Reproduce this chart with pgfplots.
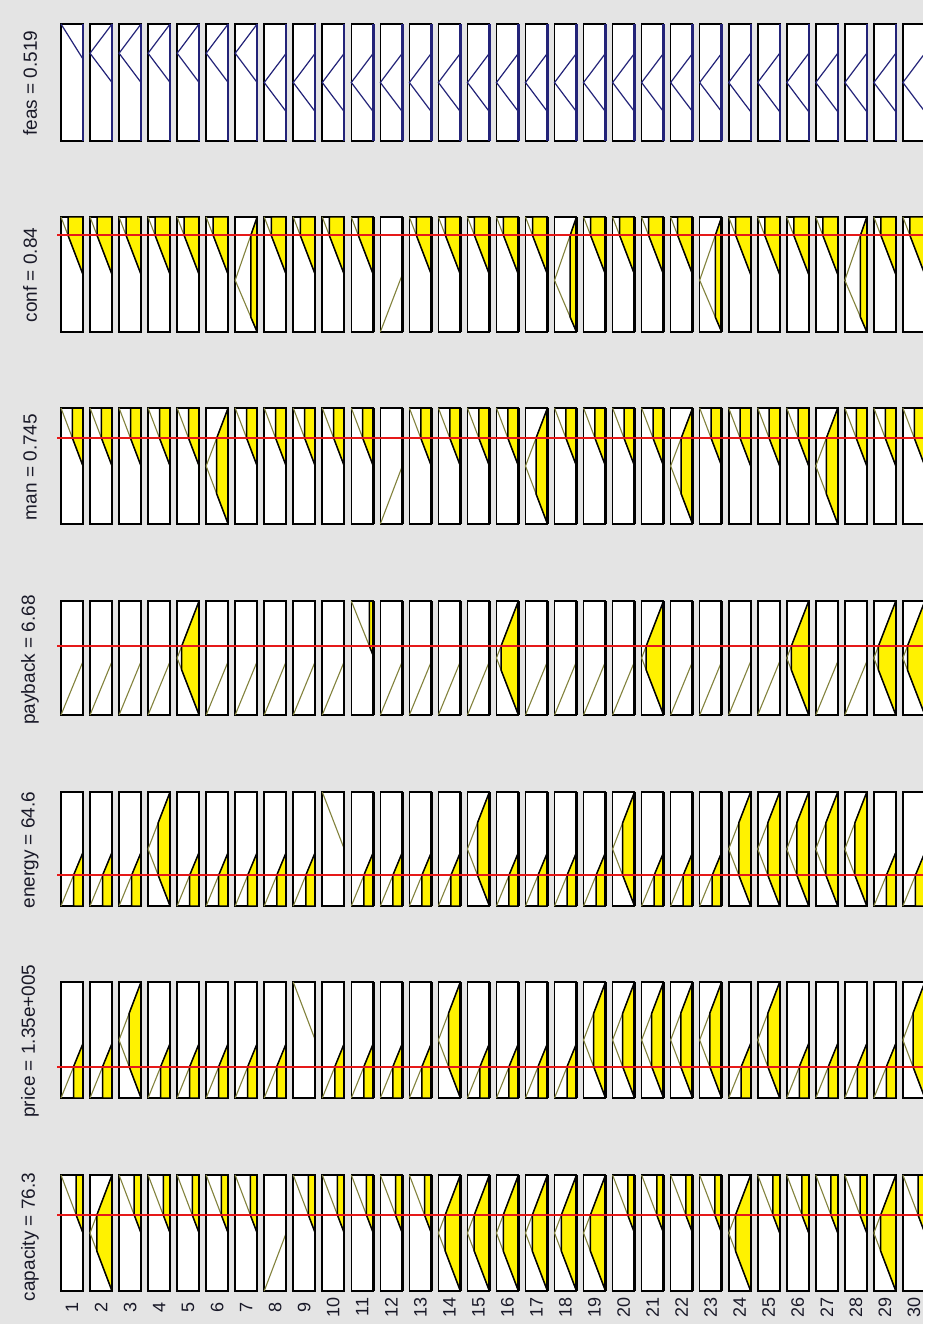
\documentclass[border=0pt]{standalone}
\usepackage{fontspec}
\setmainfont{Liberation Sans}
\usepackage{pgfplots}
\usepackage{pgfplotstable}
\pgfplotsset{compat=1.18}

\definecolor{bg}{RGB}{228,228,228}
\definecolor{mfline}{RGB}{130,130,60}
\definecolor{navyl}{RGB}{35,35,120}
\definecolor{redl}{RGB}{230,25,25}
\definecolor{txt}{RGB}{25,25,40}

\tikzset{
  boxsty/.style={fill=white, draw=black, line width=1.6pt},
  mfsty/.style={draw=mfline, line width=1.1pt},
  fillsty/.style={fill=yellow, draw=black, line width=1.5pt, line join=round},
  feassty/.style={draw=navyl, line width=1.2pt},
  edgesty/.style={draw=black, line width=2.4pt},
  fedgesty/.style={draw=navyl, line width=2.4pt},
  redsty/.style={draw=redl, line width=1.8pt},
}

% unit box and right edge (m = membership, 1 at left; u = universe, 1 at top)
\pgfplotstableread{
m u
0 0
1 0
1 1
0 1
}\boxT
\pgfplotstableread{
m u
0 0
0 1
}\edgeT

% output feas
\pgfplotstableread{
m u
0 0.70
1 1
}\feasA
\pgfplotstableread{
m u
0 0.5
1 0.75
0 1
}\feasB
\pgfplotstableread{
m u
0 0.25
1 0.5
0 0.75
}\feasC

% generic membership lines
\pgfplotstableread{
m u
0 0.5
1 1
}\Hline
\pgfplotstableread{
m u
0 0
1 0.5
0 1
}\Mline
\pgfplotstableread{
m u
1 0
0 0.5
}\Lline

% conf = 0.84
\pgfplotstableread{
m u
0 0
1 0.45
0 1
}\confMline
\pgfplotstableread{
m u
0 0.5
0.68 0.84
0.68 1
0 1
}\confHfill
\pgfplotstableread{
m u
0 0
0.29 0.13
0.29 0.84
0 1
}\confMfill

% man = 0.745
\pgfplotstableread{
m u
0 0.5
0.48 0.74
0.48 1
0 1
}\manHfill
\pgfplotstableread{
m u
0 0
0.52 0.26
0.52 0.74
0 1
}\manMfill

% payback = 6.68
\pgfplotstableread{
m u
1 0
0 0.47
}\pbLline
\pgfplotstableread{
m u
0 0.52
1 1
}\pbHline
\pgfplotstableread{
m u
0 0
0.79 0.395
0.79 0.605
0 1
}\pbMfill
\pgfplotstableread{
m u
0 0.52
0.18 0.605
0.18 1
0 1
}\pbHfill

% energy = 64.6 and price = 1.35e+005
\pgfplotstableread{
m u
1 0
0 0.47
}\epLline
\pgfplotstableread{
m u
0 0
0.43 0
0.43 0.27
0 0.47
}\epLfill
\pgfplotstableread{
m u
0 0
0.54 0.27
0.54 0.73
0 1
}\epMfill

% capacity = 76.3
\pgfplotstableread{
m u
0 0.5
0.31 0.655
0.31 1
0 1
}\capHfill
\pgfplotstableread{
m u
0 0
0.69 0.345
0.69 0.655
0 1
}\capMfill

% input value lines: x in pixels, y = row top + height*(1-value)
\pgfplotstableread{
x y
57 235.4
928 235.4
}\redconf
\pgfplotstableread{
x y
57 438.2
928 438.2
}\redman
\pgfplotstableread{
x y
57 646.0
928 646.0
}\redpb
\pgfplotstableread{
x y
57 875.2
928 875.2
}\redenergy
\pgfplotstableread{
x y
57 1066.7
928 1066.7
}\redprice
\pgfplotstableread{
x y
57 1215.0
928 1215.0
}\redcap

% #1 rule, #2 top of row, #3 height of row, #4 style, #5 table
\newcommand{\shp}[5]{\addplot[#4] table[x expr={61+29.03*(#1-1)+22*(1-\thisrow{m})}, y expr={#2+#3*(1-\thisrow{u})}] {#5};}
\newcommand{\shpc}[5]{\addplot[#4] table[x expr={61+29.03*(#1-1)+22*(1-\thisrow{m})}, y expr={#2+#3*(1-\thisrow{u})}] {#5} -- cycle;}

\begin{document}
\begin{tikzpicture}
\begin{axis}[
  width=928pt, height=1324pt, scale only axis,
  xmin=0, xmax=928, ymin=0, ymax=1324, y dir=reverse,
  hide axis, clip=true,
]
% background
\addplot[fill=bg, draw=none] coordinates {(0,0) (928,0) (928,1324) (0,1324)} -- cycle;

% boxes
\pgfplotsinvokeforeach{1,...,30}{
  \shpc{#1}{24}{117}{boxsty}{\boxT}
  \shpc{#1}{217}{115}{boxsty}{\boxT}
  \shpc{#1}{408}{116}{boxsty}{\boxT}
  \shpc{#1}{601}{114}{boxsty}{\boxT}
  \shpc{#1}{792}{114}{boxsty}{\boxT}
  \shpc{#1}{982}{116}{boxsty}{\boxT}
  \shpc{#1}{1175}{116}{boxsty}{\boxT}
}

% feas (output)
\shp{1}{24}{117}{feassty}{\feasA}
\pgfplotsinvokeforeach{2,...,7}{\shp{#1}{24}{117}{feassty}{\feasB}}
\pgfplotsinvokeforeach{8,...,30}{\shp{#1}{24}{117}{feassty}{\feasC}}

% conf
\pgfplotsinvokeforeach{1,2,3,4,5,6,8,9,10,11,13,14,15,16,17,19,20,21,22,24,25,26,27,29,30}{
  \shp{#1}{217}{115}{mfsty}{\Hline}
  \shp{#1}{217}{115}{fillsty}{\confHfill}}
\pgfplotsinvokeforeach{7,18,23,28}{
  \shp{#1}{217}{115}{mfsty}{\confMline}
  \shp{#1}{217}{115}{fillsty}{\confMfill}}
\shp{12}{217}{115}{mfsty}{\Lline}

% man
\pgfplotsinvokeforeach{1,2,3,4,5,7,8,9,10,11,13,14,15,16,18,19,20,21,23,24,25,26,28,29,30}{
  \shp{#1}{408}{116}{mfsty}{\Hline}
  \shp{#1}{408}{116}{fillsty}{\manHfill}}
\pgfplotsinvokeforeach{6,17,22,27}{
  \shp{#1}{408}{116}{mfsty}{\Mline}
  \shp{#1}{408}{116}{fillsty}{\manMfill}}
\shp{12}{408}{116}{mfsty}{\Lline}

% payback
\pgfplotsinvokeforeach{1,2,3,4,6,7,8,9,10,12,13,14,15,17,18,19,20,22,23,24,25,27,28}{
  \shp{#1}{601}{114}{mfsty}{\pbLline}}
\pgfplotsinvokeforeach{5,16,21,26,29,30}{
  \shp{#1}{601}{114}{mfsty}{\Mline}
  \shp{#1}{601}{114}{fillsty}{\pbMfill}}
\shp{11}{601}{114}{mfsty}{\pbHline}
\shp{11}{601}{114}{fillsty}{\pbHfill}

% energy
\pgfplotsinvokeforeach{1,2,3,5,6,7,8,9,11,12,13,14,16,17,18,19,21,22,23,29,30}{
  \shp{#1}{792}{114}{mfsty}{\epLline}
  \shp{#1}{792}{114}{fillsty}{\epLfill}}
\pgfplotsinvokeforeach{4,15,20,24,25,26,27,28}{
  \shp{#1}{792}{114}{mfsty}{\Mline}
  \shp{#1}{792}{114}{fillsty}{\epMfill}}
\shp{10}{792}{114}{mfsty}{\Hline}

% price
\pgfplotsinvokeforeach{1,2,4,5,6,7,8,10,11,12,13,15,16,17,18,24,26,27,28,29}{
  \shp{#1}{982}{116}{mfsty}{\epLline}
  \shp{#1}{982}{116}{fillsty}{\epLfill}}
\pgfplotsinvokeforeach{3,14,19,20,21,22,23,25,30}{
  \shp{#1}{982}{116}{mfsty}{\Mline}
  \shp{#1}{982}{116}{fillsty}{\epMfill}}
\shp{9}{982}{116}{mfsty}{\Hline}

% capacity
\pgfplotsinvokeforeach{1,3,4,5,6,7,9,10,11,12,13,20,21,22,23,25,26,27,28,30}{
  \shp{#1}{1175}{116}{mfsty}{\Hline}
  \shp{#1}{1175}{116}{fillsty}{\capHfill}}
\pgfplotsinvokeforeach{2,14,15,16,17,18,19,24,29}{
  \shp{#1}{1175}{116}{mfsty}{\Mline}
  \shp{#1}{1175}{116}{fillsty}{\capMfill}}
\shp{8}{1175}{116}{mfsty}{\Lline}

% thick right edges (zero-membership base lines)
\pgfplotsinvokeforeach{1,...,30}{
  \shp{#1}{24}{117}{fedgesty}{\edgeT}
  \shp{#1}{217}{115}{edgesty}{\edgeT}
  \shp{#1}{408}{116}{edgesty}{\edgeT}
  \shp{#1}{601}{114}{edgesty}{\edgeT}
  \shp{#1}{792}{114}{edgesty}{\edgeT}
  \shp{#1}{982}{116}{edgesty}{\edgeT}
  \shp{#1}{1175}{116}{edgesty}{\edgeT}
}

% input values (red lines)
\addplot[redsty] table[x=x, y=y] {\redconf};
\addplot[redsty] table[x=x, y=y] {\redman};
\addplot[redsty] table[x=x, y=y] {\redpb};
\addplot[redsty] table[x=x, y=y] {\redenergy};
\addplot[redsty] table[x=x, y=y] {\redprice};
\addplot[redsty] table[x=x, y=y] {\redcap};

% white strip at right edge
\addplot[fill=white, draw=none] coordinates {(923,0) (928,0) (928,1324) (923,1324)} -- cycle;

% variable labels
\node[rotate=90, text=txt, font=\fontsize{19}{19}\selectfont] at (axis cs:30,83) {feas = 0.519};
\node[rotate=90, text=txt, font=\fontsize{19}{19}\selectfont] at (axis cs:30,275) {conf = 0.84};
\node[rotate=90, text=txt, font=\fontsize{19}{19}\selectfont] at (axis cs:30,467) {man = 0.745};
\node[rotate=90, text=txt, font=\fontsize{19}{19}\selectfont] at (axis cs:30,660) {payback = 6.68};
\node[rotate=90, text=txt, font=\fontsize{19}{19}\selectfont] at (axis cs:30,850) {energy = 64.6};
\node[rotate=90, text=txt, font=\fontsize{19}{19}\selectfont] at (axis cs:30,1041) {price = 1.35e+005};
\node[rotate=90, text=txt, font=\fontsize{19}{19}\selectfont] at (axis cs:30,1237) {capacity = 76.3};

% rule numbers
\pgfplotsinvokeforeach{1,...,30}{
  \node[rotate=90, text=txt, font=\fontsize{18}{18}\selectfont] at (axis cs:{72+29.03*(#1-1)},1307) {#1};
}
\end{axis}
\end{tikzpicture}
\end{document}
